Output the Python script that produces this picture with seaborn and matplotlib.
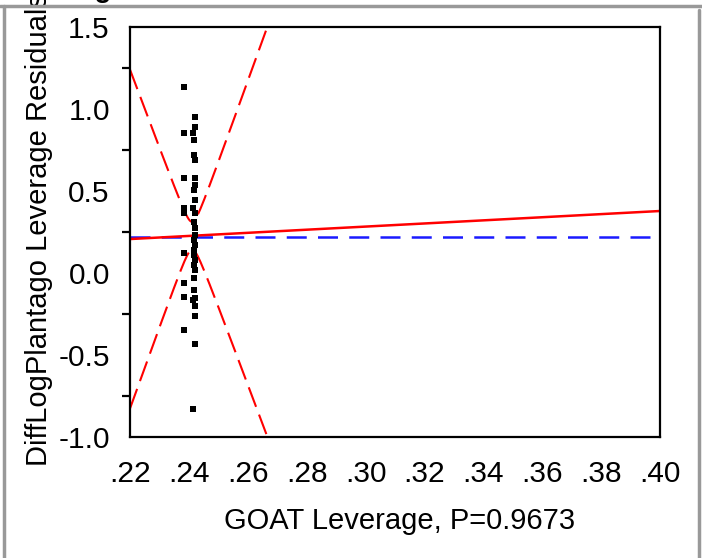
import numpy as np
import pandas as pd
import matplotlib
matplotlib.use("Agg")
import matplotlib.pyplot as plt
from matplotlib.lines import Line2D
import seaborn as sns

# ---- data ----
x_left = [0.2383] * 9
y_left = [1.134, 0.854, 0.579, 0.396, 0.366, 0.122, -0.061, -0.146, -0.348]
x_right = [0.2420, 0.2420, 0.2415, 0.2417, 0.2417, 0.2420, 0.2420, 0.2420, 0.2417,
           0.2420, 0.2415, 0.2422, 0.2417, 0.2422, 0.2420, 0.2417, 0.2420, 0.2417,
           0.2417, 0.2420, 0.2417, 0.2420, 0.2417, 0.2417, 0.2420, 0.2415, 0.2420,
           0.2420, 0.2422, 0.2415]
y_right = [0.951, 0.890, 0.854, 0.811, 0.720, 0.689, 0.579, 0.537, 0.506,
           0.445, 0.396, 0.366, 0.311, 0.274, 0.232, 0.201, 0.171, 0.140,
           0.110, 0.079, 0.049, 0.018, -0.030, -0.104, -0.152, -0.165, -0.201,
           -0.262, -0.433, -0.829]

x_range = [0.22, 0.40]
fit_line = [0.207, 0.378]      # fitted line at x_range ends
mean_line = 0.22               # horizontal mean (blue dashed)
ci_center = 0.2411             # x where confidence curves are narrowest
ci_min_half = 0.085            # half width at center
ci_slope = 48.8                # growth of half width with distance

x_ticks = [0.22, 0.24, 0.26, 0.28, 0.30, 0.32, 0.34, 0.36, 0.38, 0.40]
x_tick_labels = [".22", ".24", ".26", ".28", ".30", ".32", ".34", ".36", ".38", ".40"]
y_ticks = [-1.0, -0.5, 0.0, 0.5, 1.0, 1.5]
y_tick_labels = ["-1.0", "-0.5", "0.0", "0.5", "1.0", "1.5"]
y_minor = [-0.75, -0.25, 0.25, 0.75, 1.25]

x_label = "GOAT Leverage, P=0.9673"
y_label = "DiffLogPlantago Leverage Residuals"
title = "Leverage Plot"

# ---- figure ----
sns.set_theme(style="white")
plt.rcParams["font.family"] = ["Liberation Sans", "DejaVu Sans"]
plt.rcParams["axes.unicode_minus"] = False

fig = plt.figure(figsize=(7.02, 5.58), dpi=100)
ax = fig.add_axes([130 / 702, 1 - 437 / 558, 530 / 702, 410 / 558])

pts = pd.DataFrame({"x": x_left + x_right, "y": y_left + y_right})

xs = np.linspace(x_range[0], x_range[1], 400)
slope = (fit_line[1] - fit_line[0]) / (x_range[1] - x_range[0])
fit = fit_line[0] + slope * (xs - x_range[0])
half = np.sqrt(ci_min_half ** 2 + (ci_slope * (xs - ci_center)) ** 2)
curves = pd.DataFrame({"x": xs, "fit": fit, "up": fit + half, "lo": fit - half,
                       "mean": np.full_like(xs, mean_line)})

sns.lineplot(data=curves, x="x", y="mean", ax=ax, color="#1a1aff", lw=1.8,
             estimator=None)
ax.lines[-1].set_dashes((8, 4.5))
sns.lineplot(data=curves, x="x", y="up", ax=ax, color="#ff0000", lw=1.5,
             estimator=None)
ax.lines[-1].set_dashes((10, 4))
sns.lineplot(data=curves, x="x", y="lo", ax=ax, color="#ff0000", lw=1.5,
             estimator=None)
ax.lines[-1].set_dashes((10, 4))
sns.lineplot(data=curves, x="x", y="fit", ax=ax, color="#ff0000", lw=1.8,
             estimator=None)

sns.scatterplot(data=pts, x="x", y="y", ax=ax, marker="s", s=18, color="black",
                edgecolor="black", linewidth=0, zorder=5)

ax.set_xlim(x_range)
ax.set_ylim(-1.0, 1.5)
ax.set_xticks(x_ticks)
ax.set_xticklabels(x_tick_labels)
ax.set_yticks(y_ticks)
ax.set_yticklabels(y_tick_labels)
ax.set_yticks(y_minor, minor=True)

for s in ax.spines.values():
    s.set_color("black")
    s.set_linewidth(1.6)
    s.set_visible(True)

ax.tick_params(axis="both", which="major", direction="out", length=11.5, width=1.6,
               color="black", labelsize=21.5, labelcolor="black")
ax.tick_params(axis="y", which="major", pad=3)
ax.tick_params(axis="x", which="major", pad=5)
ax.tick_params(axis="y", which="minor", direction="out", length=6, width=1.6,
               color="black", left=True)
ax.tick_params(axis="x", which="minor", bottom=False)

ax.set_xlabel(x_label, fontsize=21, color="black")
ax.set_ylabel(y_label, fontsize=21, color="black")
ax.xaxis.set_label_coords(0.508, -0.17)
ax.yaxis.set_label_coords(-0.145, 0.507)

fig.text(5 / 702, 1 + 3 / 558, title, fontsize=20, fontweight="bold",
         va="baseline", ha="left", color="black")

# grey outer frame
grey = "#999999"
fig.add_artist(Line2D([0, 1], [1 - 6 / 558] * 2, color=grey, lw=2.5,
                      transform=fig.transFigure))
fig.add_artist(Line2D([4 / 702] * 2, [1 - 6 / 558, 0], color=grey, lw=2.5,
                      transform=fig.transFigure))
fig.add_artist(Line2D([699 / 702] * 2, [1 - 10 / 558, 0], color=grey, lw=2.5,
                      transform=fig.transFigure))

fig.savefig("out.png", dpi=100)
